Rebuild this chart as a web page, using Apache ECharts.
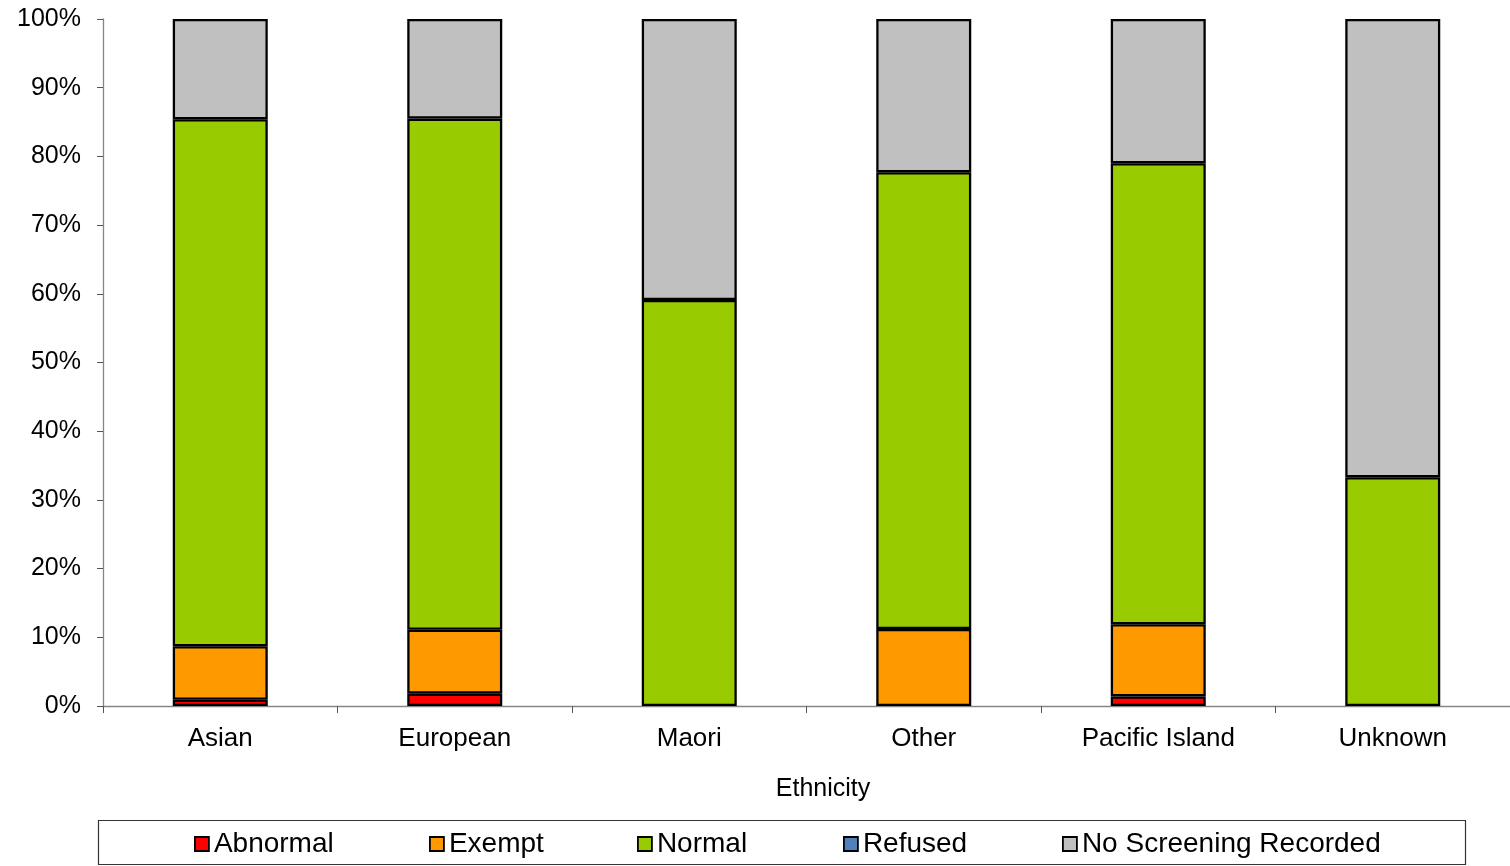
<!DOCTYPE html>
<html>
<head>
<meta charset="utf-8">
<script src="https://cdn.jsdelivr.net/npm/echarts@6/dist/echarts.min.js"></script>
<style>
html,body{margin:0;padding:0;background:#fff;}
#chart{width:1510px;height:866px;}
</style>
</head>
<body>
<div id="chart"></div>
<script>
const categories = ['Asian', 'European', 'Maori', 'Other', 'Pacific Island', 'Unknown'];
const abnormal = [0.9, 1.8, 0, 0, 1.4, 0];
const exempt = [7.8, 9.3, 0, 11.2, 10.5, 0];
const normal = [76.7, 74.4, 59.1, 66.5, 67.1, 33.3];
const refused = [0, 0, 0, 0, 0, 0];
const noScreening = [14.6, 14.5, 40.9, 22.3, 21.0, 66.7];
const seriesNames = ['Abnormal', 'Exempt', 'Normal', 'Refused', 'No Screening Recorded'];
const yTicks = [0, 10, 20, 30, 40, 50, 60, 70, 80, 90, 100];

const colors = ['#FF0000', '#FF9900', '#99CC00', '#4F81BD', '#C0C0C0'];
const values = [abnormal, exempt, normal, refused, noScreening];
const legendLefts = [194, 429, 637, 843, 1062];

const chart = echarts.init(document.getElementById('chart'), null, {renderer: 'canvas'});
const FONT = 'Liberation Sans, Arial, sans-serif';

const option = {
  animation: false,
  backgroundColor: '#fff',
  grid: {left: 103, right: 0, top: 19, bottom: 160, containLabel: false},
  xAxis: {
    type: 'category',
    data: categories,
    name: 'Ethnicity',
    nameLocation: 'middle',
    nameGap: 71,
    nameTextStyle: {fontFamily: FONT, fontSize: 25, color: '#000', padding: [0, 0, 0, 33]},
    axisLine: {lineStyle: {color: '#868686', width: 1.3}},
    axisTick: {show: true, length: 7, lineStyle: {color: '#555'}},
    axisLabel: {fontFamily: FONT, fontSize: 26, color: '#000', margin: 20},
    splitLine: {show: false}
  },
  yAxis: {
    type: 'value',
    min: yTicks[0],
    max: yTicks[yTicks.length - 1],
    interval: 10,
    axisLine: {show: true, lineStyle: {color: '#868686', width: 1.3}},
    axisTick: {show: true, length: 6, lineStyle: {color: '#555'}},
    axisLabel: {fontFamily: FONT, fontSize: 25, color: '#000', margin: 22, formatter: v => v + '%'},
    splitLine: {show: false}
  },
  legend: seriesNames.map((n, i) => ({
    data: [n],
    left: legendLefts[i],
    top: 830,
    padding: 0,
    itemWidth: 14,
    itemHeight: 14,
    icon: 'rect',
    itemStyle: {borderColor: '#000', borderWidth: 1.8},
    textStyle: {fontFamily: FONT, fontSize: 28, color: '#000'},
    selectedMode: false
  })),
  graphic: [{
    type: 'rect',
    shape: {x: 98.5, y: 820.5, width: 1367, height: 44},
    style: {fill: 'none', stroke: '#333', lineWidth: 1.2},
    silent: true
  }],
  series: seriesNames.map((n, i) => ({
    name: n,
    type: 'bar',
    stack: 'total',
    barWidth: 95,
    data: values[i].map(v => (v === 0 ? '-' : v)),
    itemStyle: {color: colors[i], borderColor: '#000', borderWidth: 2.3}
  }))
};
chart.setOption(option);
</script>
</body>
</html>
